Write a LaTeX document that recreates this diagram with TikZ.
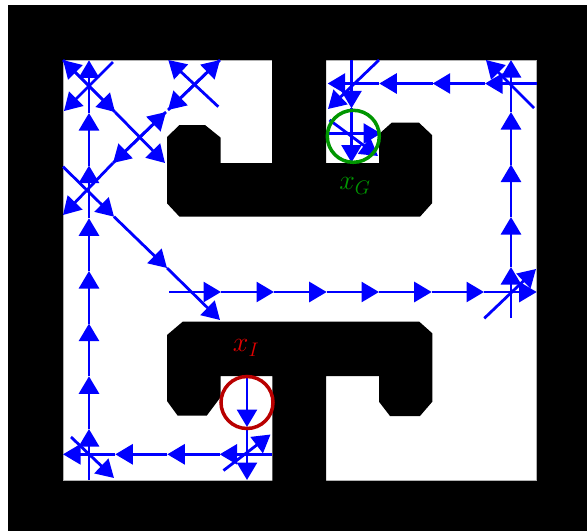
\RequirePackage{fix-cm}
\documentclass[tikz,border=0pt]{standalone}
\usetikzlibrary{arrows.meta}
\definecolor{goalgreen}{RGB}{0,150,0}
\definecolor{startred}{RGB}{185,0,0}
\definecolor{labelred}{RGB}{225,0,0}
\tikzset{
  flow/.style={color=blue, line width=2.8pt, -{Triangle[length=17.5pt,width=20pt]}},
  wall/.style={fill=black},
  ring/.style={circle, line width=3.5pt, minimum size=52pt, inner sep=0pt},
  lbl/.style={font=\fontsize{28}{32}\selectfont, inner sep=0pt}
}
\begin{document}
\begin{tikzpicture}[x=1pt,y=-1pt]
\useasboundingbox (0,0) rectangle (587,531);
\fill[white] (0,0) rectangle (587,531);
% outer wall and free space
\fill[wall] (7.5,4.5) rectangle (587,531);
\fill[white, draw=gray!60, line width=0.6pt] (63,60) rectangle (536.5,480);
% obstacles
\fill[wall] (167,137) -- (179.5,125) -- (205,125) -- (220.5,137.5) -- (220.5,163)
  -- (272,163) -- (272,55) -- (326,55) -- (326,163) -- (379,163) -- (379,134)
  -- (391.7,122.7) -- (419,122.7) -- (432,135) -- (432,203.3) -- (420,216.7)
  -- (179.5,216.7) -- (167,203.3) -- cycle;
\fill[wall] (167,335) -- (182.7,321.7) -- (419.3,321.7) -- (432.3,333.3) -- (432.3,401.7)
  -- (420,416) -- (390,416) -- (379,401.7) -- (379,376) -- (326,376) -- (326,485)
  -- (272.3,485) -- (272.3,376) -- (220.7,376) -- (220.7,397) -- (206.7,415.7)
  -- (177.7,415.7) -- (167,401) -- cycle;
% left column
\foreach \a/\b in {480/429, 429/376.3, 376.3/323.6, 323.6/271, 271/218.3, 218.3/165.6, 165.6/113, 113/60.3}
  \draw[flow] (89,\a) -- (89,\b);
% bottom row
\foreach \a/\b in {272/219.7, 219.7/167.3, 167.3/115.3, 115.3/63}
  \draw[flow] (\a,454.3) -- (\b,454.3);
\draw[flow] (71,437) -- (114,478);
% start column
\draw[flow] (247,376) -- (247,427);
\draw[flow] (247,427) -- (247,480);
\draw[flow] (223.5,470.5) -- (270.5,434.5);
% left diagonals
\draw[flow] (63,60) -- (115,112);
\draw[flow] (115,112) -- (63,60);
\draw[flow] (113,62) -- (64,111);
\draw[flow] (115,112) -- (165,163);
\draw[flow] (113,163) -- (166,112);
\draw[flow] (166,112) -- (113,163);
\draw[flow] (168,110) -- (220,60);
\draw[flow] (220,60) -- (168,110);
\draw[flow] (218.3,106.7) -- (168.3,60);
\draw[flow] (113,163) -- (63,215);
\draw[flow] (63,166.7) -- (114,216.7);
\draw[flow] (114,216.7) -- (167,268);
\draw[flow] (167,268) -- (220,320);
% middle row
\foreach \a/\b in {169/221, 221/274, 274/326.7, 326.7/379, 379/431.7, 431.7/484, 484/536.7}
  \draw[flow] (\a,292) -- (\b,292);
\draw[flow] (484.3,318.3) -- (536,269);
% right column
\foreach \a/\b in {318/267, 267/217, 217/164.5, 164.5/112, 112/60}
  \draw[flow] (511,\a) -- (511,\b);
% top row
\foreach \a/\b in {536.7/485, 485/432.7, 432.7/379.3, 379.3/327.7}
  \draw[flow] (\a,83.5) -- (\b,83.5);
\draw[flow] (534,108) -- (486,60);
% goal area
\draw[flow] (351.5,60) -- (351.5,108.3);
\draw[flow] (351.5,108.3) -- (351.5,162.5);
\draw[flow] (379,60) -- (328,109);
\draw[flow] (327,133.5) -- (381,133.5);
\draw[flow] (329.5,120) -- (378,156);
% start and goal
\node[ring, draw=goalgreen] (goal) at (353.3,136.3) {};
\node[ring, draw=startred] (start) at (247,402.5) {};
\node[lbl, text=goalgreen] (xg) at (355,186) {$x_G$};
\node[lbl, text=labelred] (xi) at (246,348) {$x_I$};
\end{tikzpicture}
\end{document}
